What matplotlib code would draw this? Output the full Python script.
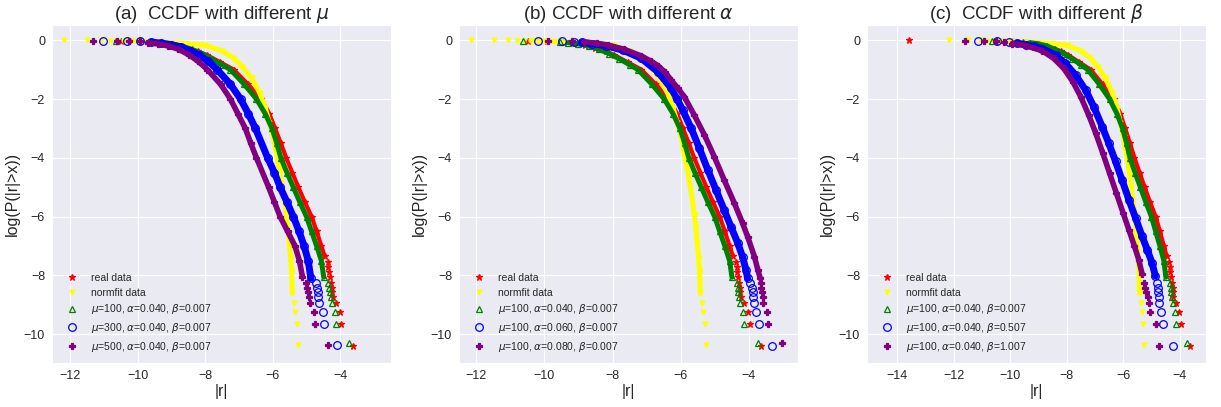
import matplotlib
matplotlib.use("Agg")
import matplotlib.pyplot as plt
import seaborn as sns

sns.set_style("darkgrid")
plt.rcParams['font.family'] = ['Liberation Sans', 'DejaVu Sans']
plt.rcParams['mathtext.fontset'] = 'dejavusans'

###### DATA ######
# each series: isolated points at the top ("head"), the dense band, isolated tail points

# real data
real_head_x = [-13.56, -10.48, -9.93, -9.45]
real_head_y = [0.0, -0.02, -0.04, -0.07]
real_band_x = [-9.2, -8.8, -8.5, -8.2, -7.95, -7.55, -7.15, -6.73, -6.34, -6.1, -5.93, -5.76,
               -5.60, -5.42, -5.24, -5.05, -4.85, -4.70, -4.56, -4.46]
real_band_y = [-0.1, -0.17, -0.26, -0.38, -0.5, -0.75, -1.0, -1.5, -2.0, -2.5, -3.0, -3.5,
               -4.0, -4.5, -5.0, -5.5, -6.0, -6.5, -7.0, -7.35]
real_tail_x = [-4.37, -4.35, -4.33, -4.31, -4.27, -4.25, -4.24, -4.22, -4.13, -4.01, -3.97, -3.63]
real_tail_y = [-7.55, -7.7, -7.87, -8.04, -8.27, -8.44, -8.58, -8.75, -8.95, -9.25, -9.65, -10.39]

# normfit data
norm_head_x = [-12.17, -11.48, -11.08, -10.8, -10.6]
norm_head_y = [0.0, 0.0, -0.005, -0.01, -0.01]
norm_band_x = [-10.4, -10.0, -9.5, -9.0, -8.6, -8.0, -7.5, -7.16, -6.9, -6.62, -6.38, -6.22,
               -6.1, -5.98, -5.88, -5.79, -5.72, -5.65, -5.59, -5.55, -5.51, -5.47, -5.44, -5.42]
norm_band_y = [-0.015, -0.03, -0.05, -0.08, -0.11, -0.17, -0.36, -0.6, -0.9, -1.3, -1.8, -2.3,
               -2.8, -3.3, -3.95, -4.45, -4.95, -5.45, -5.95, -6.4, -6.9, -7.4, -7.9, -8.6]
norm_tail_x = [-5.38, -5.33, -5.29, -5.25]
norm_tail_y = [-8.95, -9.25, -9.65, -10.36]

# mu=100, alpha=0.040, beta=0.007 (shared by all panels)
base_head_x = [-10.64, -9.55]
base_head_y = [-0.02, -0.06]
base_band_x = [-9.3, -9.0, -8.7, -8.4, -8.1, -7.8, -7.5, -7.25, -6.84, -6.48, -6.22, -6.02,
               -5.88, -5.76, -5.58, -5.39, -5.2, -5.0, -4.85, -4.70, -4.56, -4.49]
base_band_y = [-0.08, -0.12, -0.19, -0.31, -0.45, -0.63, -0.83, -1.0, -1.5, -2.0, -2.5, -3.0,
               -3.5, -4.0, -4.5, -5.0, -5.5, -6.0, -6.5, -7.0, -7.5, -8.06]
base_tail_x = [-4.35, -4.32, -4.30, -4.28, -4.25, -4.16, -4.13, -3.73]
base_tail_y = [-8.27, -8.44, -8.58, -8.75, -8.95, -9.25, -9.65, -10.31]

# (a) mu=300
mu300_head_x = [-11.03, -10.31, -9.93]
mu300_head_y = [-0.01, -0.02, -0.04]
mu300_band_x = [-9.6, -9.3, -9.0, -8.7, -8.45, -8.18, -7.9, -7.64, -7.25, -6.95, -6.72, -6.51,
                -6.15, -5.95, -5.78, -5.58, -5.39, -5.22, -5.07, -4.95, -4.87]
mu300_band_y = [-0.06, -0.1, -0.15, -0.24, -0.35, -0.5, -0.72, -1.0, -1.5, -2.0, -2.5, -3.0,
                -4.0, -4.5, -5.0, -5.5, -6.0, -6.5, -7.0, -7.5, -8.1]
mu300_tail_x = [-4.71, -4.69, -4.67, -4.66, -4.63, -4.51, -4.47, -4.10]
mu300_tail_y = [-8.27, -8.44, -8.58, -8.75, -8.95, -9.25, -9.65, -10.36]

# (a) mu=500
mu500_head_x = [-11.31, -10.62, -10.25, -9.93]
mu500_head_y = [-0.01, -0.02, -0.03, -0.04]
mu500_band_x = [-9.7, -9.4, -9.1, -8.8, -8.47, -8.2, -7.93, -7.54, -7.25, -7.03, -6.81, -6.65,
                -6.48, -6.12, -5.95, -5.78, -5.56, -5.34, -5.21, -5.12]
mu500_band_y = [-0.08, -0.12, -0.19, -0.3, -0.5, -0.72, -1.0, -1.5, -2.0, -2.5, -3.0, -3.5,
                -4.0, -5.0, -5.5, -6.0, -6.5, -7.0, -7.5, -8.04]
mu500_tail_x = [-5.02, -4.99, -4.97, -4.94, -4.89, -4.77, -4.74, -4.37]
mu500_tail_y = [-8.27, -8.44, -8.58, -8.75, -8.95, -9.25, -9.65, -10.36]

# (b) alpha=0.060
al060_head_x = [-10.18, -9.49, -9.12]
al060_head_y = [-0.01, -0.03, -0.05]
al060_band_x = [-8.9, -8.6, -8.18, -7.69, -7.16, -6.67, -6.28, -6.1, -5.94, -5.69, -5.45, -5.2,
                -4.96, -4.72, -4.52, -4.32, -4.18, -4.08, -4.03]
al060_band_y = [-0.07, -0.12, -0.19, -0.34, -0.61, -1.07, -1.63, -2.0, -2.37, -2.99, -3.67, -4.41,
                -5.09, -5.77, -6.34, -6.90, -7.36, -7.81, -8.1]
al060_tail_x = [-3.95, -3.91, -3.88, -3.87, -3.85, -3.77, -3.70, -3.32]
al060_tail_y = [-8.27, -8.44, -8.58, -8.75, -8.95, -9.25, -9.65, -10.40]

# (b) alpha=0.080
al080_head_x = [-9.89, -9.2]
al080_head_y = [-0.01, -0.04]
al080_band_x = [-8.83, -8.46, -8.14, -7.65, -7.16, -6.86, -6.67, -6.46, -6.28, -6.08, -5.89, -5.6,
                -5.3, -5.01, -4.72, -4.42, -4.18, -4.03, -3.83, -3.73, -3.66]
al080_band_y = [-0.06, -0.1, -0.16, -0.31, -0.53, -0.72, -0.86, -1.08, -1.35, -1.63, -1.92, -2.54,
                -3.22, -3.96, -4.75, -5.54, -6.22, -6.68, -7.36, -7.81, -8.10]
al080_tail_x = [-3.65, -3.63, -3.61, -3.59, -3.57, -3.47, -3.42, -3.02]
al080_tail_y = [-8.27, -8.44, -8.58, -8.75, -8.95, -9.25, -9.65, -10.30]

# (c) beta=0.507
be507_head_x = [-11.13, -10.46, -10.05]
be507_head_y = [-0.01, -0.03, -0.05]
be507_band_x = [-9.75, -9.45, -9.15, -8.86, -8.39, -8.04, -7.68, -7.33, -7.04, -6.74, -6.51, -6.27,
                -6.04, -5.80, -5.56, -5.33, -5.15, -4.98, -4.86]
be507_band_y = [-0.1, -0.15, -0.21, -0.28, -0.51, -0.79, -1.19, -1.69, -2.26, -2.94, -3.50, -4.12,
                -4.75, -5.42, -6.05, -6.67, -7.12, -7.57, -8.02]
be507_tail_x = [-4.80, -4.78, -4.76, -4.74, -4.72, -4.65, -4.59, -4.23]
be507_tail_y = [-8.27, -8.44, -8.58, -8.75, -8.95, -9.25, -9.67, -10.40]

# (c) beta=1.007
be1007_head_x = [-11.60, -10.91, -10.5, -10.22]
be1007_head_y = [-0.01, -0.02, -0.03, -0.05]
be1007_band_x = [-9.92, -9.45, -8.86, -8.45, -8.1, -7.78, -7.5, -7.22, -6.97, -6.72, -6.48, -6.24,
                 -6.0, -5.8, -5.6, -5.45, -5.33]
be1007_band_y = [-0.11, -0.18, -0.36, -0.62, -0.96, -1.41, -1.92, -2.54, -3.16, -3.84, -4.52, -5.20,
                 -5.88, -6.44, -7.01, -7.46, -7.95]
be1007_tail_x = [-5.27, -5.21, -5.19, -5.13, -5.09, -5.04, -4.83, -4.74]
be1007_tail_y = [-8.27, -8.44, -8.58, -8.75, -8.95, -9.25, -9.67, -10.40]

titles = [r"(a)  CCDF with different $\mu$",
          r"(b) CCDF with different $\alpha$",
          r"(c)  CCDF with different $\beta$"]
labels_a = [r"$\mu$=100, $\alpha$=0.040, $\beta$=0.007",
            r"$\mu$=300, $\alpha$=0.040, $\beta$=0.007",
            r"$\mu$=500, $\alpha$=0.040, $\beta$=0.007"]
labels_b = [r"$\mu$=100, $\alpha$=0.040, $\beta$=0.007",
            r"$\mu$=100, $\alpha$=0.060, $\beta$=0.007",
            r"$\mu$=100, $\alpha$=0.080, $\beta$=0.007"]
labels_c = [r"$\mu$=100, $\alpha$=0.040, $\beta$=0.007",
            r"$\mu$=100, $\alpha$=0.040, $\beta$=0.507",
            r"$\mu$=100, $\alpha$=0.040, $\beta$=1.007"]
xlims = [(-12.53, -2.5), (-12.51, -2.55), (-15.06, -3.07)]
xticks = [[-12, -10, -8, -6, -4], [-12, -10, -8, -6, -4], [-14, -12, -10, -8, -6, -4]]

real = (real_head_x, real_head_y, real_band_x, real_band_y, real_tail_x, real_tail_y)
norm = (norm_head_x, norm_head_y, norm_band_x, norm_band_y, norm_tail_x, norm_tail_y)
base = (base_head_x, base_head_y, base_band_x, base_band_y, base_tail_x, base_tail_y)
mu300 = (mu300_head_x, mu300_head_y, mu300_band_x, mu300_band_y, mu300_tail_x, mu300_tail_y)
mu500 = (mu500_head_x, mu500_head_y, mu500_band_x, mu500_band_y, mu500_tail_x, mu500_tail_y)
al060 = (al060_head_x, al060_head_y, al060_band_x, al060_band_y, al060_tail_x, al060_tail_y)
al080 = (al080_head_x, al080_head_y, al080_band_x, al080_band_y, al080_tail_x, al080_tail_y)
be507 = (be507_head_x, be507_head_y, be507_band_x, be507_band_y, be507_tail_x, be507_tail_y)
be1007 = (be1007_head_x, be1007_head_y, be1007_band_x, be1007_band_y, be1007_tail_x, be1007_tail_y)

# marker styles: (color, marker, markersize, filled, band linewidth)
styles = [("red", "*", 4.5, True, 3.0),
          ("yellow", "v", 3.5, True, 3.6),
          ("green", "^", 4.5, False, 3.6),
          ("blue", "o", 5.5, False, 5.0),
          ("purple", "P", 5.0, True, 4.0)]


def draw_series(ax, s, style, label):
    hx, hy, bx, by, tx, ty = s
    color, marker, ms, filled, lw = style
    # dense part of the ccdf drawn as a thick band
    ax.plot(bx, by, "-", color=color, lw=lw, solid_capstyle="round")
    kw = dict(linestyle="none", marker=marker, markersize=ms, markeredgewidth=0.9)
    if filled:
        kw.update(color=color, markeredgecolor=color)
    else:
        kw.update(markerfacecolor="none", markeredgecolor=color)
    ax.plot(bx, by, **kw)
    ax.plot(hx + tx, hy + ty, label=label, **kw)


fig = plt.figure(figsize=(12.21, 4.07), dpi=100)
lefts = [52 / 1221, 459 / 1221, 867 / 1221]
panels = [(mu300, mu500, labels_a), (al060, al080, labels_b), (be507, be1007, labels_c)]

for i, (s1, s2, labs) in enumerate(panels):
    ax = fig.add_axes([lefts[i], 0.1081, 339 / 1221, 0.8305])
    all_series = [real, norm, base, s1, s2]
    all_labels = ["real data", "normfit data"] + labs
    for s, st, lab in zip(all_series, styles, all_labels):
        draw_series(ax, s, st, lab)
    ax.set_xlim(*xlims[i])
    ax.set_ylim(-10.98, 0.52)
    ax.set_xticks(xticks[i])
    ax.set_yticks([0, -2, -4, -6, -8, -10])
    ax.tick_params(length=0, pad=5, labelsize=9, labelcolor="#262626")
    ax.set_xlabel("|r|", fontsize=11.5, labelpad=1.5, color="#262626")
    ax.set_ylabel("log(P(|r|>x))", fontsize=11.5, labelpad=3, color="#262626")
    ax.set_title(titles[i], fontsize=13.5, pad=4, color="#262626")
    ax.legend(loc="lower left", frameon=False, fontsize=7.5, numpoints=1,
              labelspacing=0.45)

plt.savefig("out.png", dpi=100)
